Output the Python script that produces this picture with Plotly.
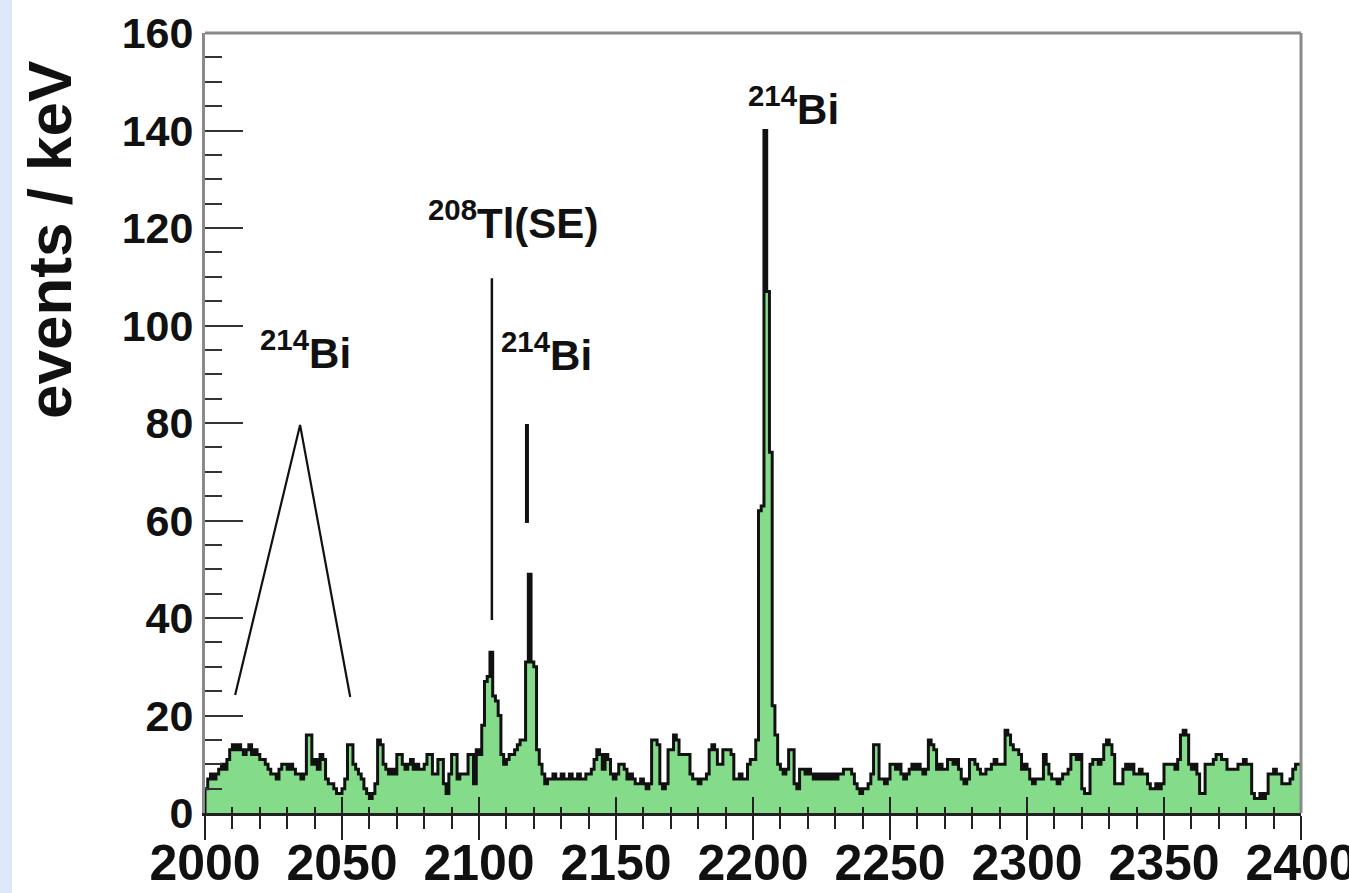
import plotly.graph_objects as go

# ---- data (1 keV bins from 2000 to 2400 keV) ----
bin_start = 2000
bin_width = 1
counts = [
    5, 7, 8, 7, 8, 9, 10, 9, 11, 13,          # 2000
    14, 13, 14, 13, 12, 13, 14, 12, 13, 12,   # 2010
    11, 11, 10, 9, 8, 8, 7, 9, 10, 10,        # 2020
    9, 10, 9, 8, 8, 7, 8, 16, 16, 10,         # 2030
    11, 9, 12, 11, 7, 6, 6, 5, 4, 4,          # 2040
    5, 7, 14, 14, 10, 9, 8, 7, 5, 4,          # 2050
    3, 4, 6, 15, 14, 10, 9, 8, 9, 8,          # 2060
    12, 12, 10, 9, 10, 11, 9, 10, 9, 9,       # 2070
    10, 12, 12, 8, 8, 11, 11, 6, 4, 8,        # 2080
    12, 12, 7, 8, 8, 8, 12, 12, 6, 13,        # 2090
    12, 18, 27, 28, 33, 24, 23, 20, 12, 10,   # 2100
    11, 12, 12, 13, 14, 15, 15, 31, 49, 31,   # 2110
    30, 13, 10, 8, 6, 7, 7, 8, 7, 7,          # 2120
    8, 7, 7, 8, 7, 7, 8, 7, 7, 8,             # 2130
    8, 9, 11, 13, 12, 9, 12, 11, 8, 7,        # 2140
    8, 10, 10, 9, 7, 8, 7, 6, 6, 7,           # 2150
    6, 5, 6, 15, 15, 14, 6, 5, 6, 13,         # 2160
    13, 16, 15, 12, 12, 12, 12, 8, 7, 7,      # 2170
    6, 7, 7, 8, 13, 14, 13, 10, 10, 13,       # 2180
    13, 13, 12, 7, 7, 8, 7, 7, 10, 11,        # 2190
    11, 15, 62, 63, 140, 107, 74, 22, 16, 10, # 2200
    9, 8, 9, 13, 13, 6, 5, 9, 9, 8,           # 2210
    9, 8, 7, 8, 7, 8, 7, 8, 7, 8,             # 2220
    7, 8, 8, 9, 9, 9, 8, 6, 5, 4,             # 2230
    5, 5, 6, 8, 14, 14, 7, 7, 6, 7,           # 2240
    10, 10, 9, 10, 8, 7, 8, 9, 10, 9,         # 2250
    10, 9, 8, 9, 15, 14, 13, 9, 10, 9,        # 2260
    9, 11, 11, 10, 11, 9, 7, 6, 7, 11,        # 2270
    11, 10, 9, 8, 8, 9, 9, 10, 11, 10,        # 2280
    10, 10, 17, 16, 14, 13, 13, 12, 9, 10,    # 2290
    9, 7, 6, 7, 7, 7, 12, 10, 8, 7,           # 2300
    7, 6, 7, 8, 8, 9, 12, 12, 11, 12,         # 2310
    5, 4, 4, 10, 11, 11, 10, 11, 14, 15,      # 2320
    14, 12, 6, 6, 6, 9, 10, 9, 10, 8,         # 2330
    8, 9, 8, 8, 6, 5, 5, 6, 5, 6,             # 2340
    10, 10, 10, 10, 9, 11, 16, 17, 16, 10,    # 2350
    9, 10, 8, 4, 4, 10, 10, 10, 11, 12,       # 2360
    12, 11, 11, 9, 9, 9, 9, 10, 10, 11,       # 2370
    10, 10, 4, 3, 3, 4, 3, 4, 8, 8,           # 2380
    9, 8, 8, 6, 6, 6, 7, 9, 10, 10,           # 2390
]

# peak label pointer lines (keV, events/keV)
bi2040_ptr_x = [2011, 2034.7, 2053]
bi2040_ptr_y = [24.2, 79.6, 23.8]
tl_ptr_x = [2104.7, 2104.7]
tl_ptr_y = [39.6, 109.7]
bi2118_ptr_x = [2117.5, 2117.5]
bi2118_ptr_y = [59.5, 79.8]

labels = [
    ("<sup>214</sup>Bi", 2036.5, 95),
    ("<sup>208</sup>Tl(SE)", 2112.4, 121.6),
    ("<sup>214</sup>Bi", 2124.5, 94.6),
    ("<sup>214</sup>Bi", 2214.6, 145),
]

x_tick_vals = [2000, 2050, 2100, 2150, 2200, 2250, 2300, 2350, 2400]
y_tick_vals = [0, 20, 40, 60, 80, 100, 120, 140, 160]

# ---- build step histogram ----
edges = [bin_start + i * bin_width for i in range(len(counts) + 1)]
xs = [edges[0]] + edges
ys = [0] + counts + [counts[-1]]

FONT = "Liberation Sans, Arial, Helvetica, sans-serif"

fig = go.Figure()
fig.add_trace(go.Scatter(
    x=xs, y=ys, mode="lines", line=dict(shape="hv", color="#111111", width=3),
    fill="tozeroy", fillcolor="#84dc8a", hoverinfo="skip", showlegend=False,
))
for px, py, w in [(bi2040_ptr_x, bi2040_ptr_y, 2.2), (tl_ptr_x, tl_ptr_y, 2.5),
                  (bi2118_ptr_x, bi2118_ptr_y, 4)]:
    fig.add_trace(go.Scatter(x=px, y=py, mode="lines",
                             line=dict(color="#111111", width=w),
                             hoverinfo="skip", showlegend=False))
# invisible trace to host the inner-tick overlay axis
fig.add_trace(go.Scatter(x=[2000], y=[0], xaxis="x2", mode="markers",
                         marker=dict(opacity=0), hoverinfo="skip", showlegend=False))

for text, x, y in labels:
    fig.add_annotation(x=x, y=y, text=text, showarrow=False,
                       font=dict(family=FONT, size=42, color="#111111", weight="bold"),
                       xanchor="center", yanchor="middle")

W, H = 1349, 893
L, R, T, B = 205, 48, 33, 80
pw, ph = W - L - R, H - T - B

fig.add_annotation(text="events / keV", xref="paper", yref="paper",
                   x=(50 - L) / pw, y=1 - (240 - T) / ph, textangle=-90,
                   showarrow=False, xanchor="center", yanchor="middle",
                   font=dict(family=FONT, size=62, color="#111111", weight="bold"))

fig.update_layout(
    width=W, height=H,
    margin=dict(l=L, r=R, t=T, b=B, autoexpand=False),
    paper_bgcolor="white", plot_bgcolor="white",
    xaxis=dict(range=[2000, 2400], tickvals=x_tick_vals,
               ticks="outside", ticklen=24, tickwidth=2, tickcolor="#222",
               minor=dict(dtick=10, ticks="outside", ticklen=13, tickwidth=2, tickcolor="#222"),
               showline=True, linecolor="#222", linewidth=3, showgrid=False, zeroline=False,
               tickfont=dict(family=FONT, size=50, color="#111", weight="bold"),
               ticklabelstandoff=-20, ticklabeloverflow="allow"),
    xaxis2=dict(range=[2000, 2400], overlaying="x", matches="x", side="bottom",
                tickvals=x_tick_vals, ticks="inside", ticklen=16, tickwidth=2, tickcolor="#222",
                minor=dict(dtick=10, ticks="inside", ticklen=6, tickwidth=2, tickcolor="#222"),
                showticklabels=False, showline=False, showgrid=False, zeroline=False),
    yaxis=dict(range=[0, 160], tickvals=y_tick_vals,
               ticks="inside", ticklen=38, tickwidth=2, tickcolor="#333",
               minor=dict(dtick=5, ticks="inside", ticklen=17, tickwidth=2, tickcolor="#333"),
               showline=True, linecolor="#8a8a8a", linewidth=3, showgrid=False, zeroline=False,
               tickfont=dict(family=FONT, size=43, color="#111", weight="bold"),
               ticklabelstandoff=0),
    shapes=[
        dict(type="rect", xref="paper", yref="paper",
             x0=-L / pw, x1=(12 - L) / pw, y0=-B / ph, y1=1 + T / ph,
             fillcolor="#dde8fb", line=dict(width=0), layer="below"),
        dict(type="line", xref="paper", yref="paper", x0=0, x1=1, y0=1, y1=1,
             line=dict(color="#8a8a8a", width=3)),
        dict(type="line", xref="paper", yref="paper", x0=1, x1=1, y0=0, y1=1,
             line=dict(color="#8a8a8a", width=3)),
    ],
)

fig.write_html("out.html")
